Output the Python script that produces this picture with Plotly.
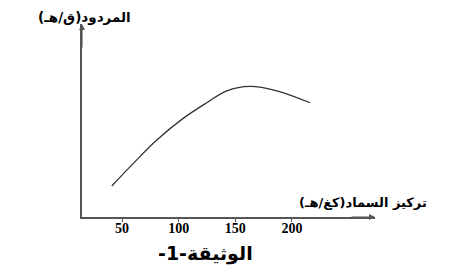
import plotly.graph_objects as go

# data (fertilizer concentration kg/ha vs yield, arbitrary yield units)
fertilizer = [41, 60, 80.7, 104, 124.8, 142.5, 163, 186.6, 216]
yield_vals = [16.1, 27.8, 39.9, 51.1, 59.2, 65.4, 67.7, 65.4, 59.2]
tick_vals = [50, 100, 150, 200]
tick_text = ["50", "100", "150", "200"]

W, H = 457, 276
L, R, T, B = 82, 82, 24, 59
PW, PH = W - L - R, H - T - B


def px(x):
    return (x - L) / PW


def py(y):
    return (H - B - y) / PH


fig = go.Figure()
fig.add_trace(go.Scatter(x=fertilizer, y=yield_vals, mode="lines",
                         line=dict(color="#333333", width=1.3, shape="spline", smoothing=1.0),
                         hoverinfo="skip", showlegend=False))

fig.update_layout(
    width=W, height=H,
    margin=dict(l=L, r=R, t=T, b=B),
    paper_bgcolor="white", plot_bgcolor="white",
    xaxis=dict(range=[14.7, 273.3], showgrid=False, zeroline=False,
               showline=True, linecolor="#555555", linewidth=1.5,
               tickvals=tick_vals, ticktext=tick_text,
               ticks="outside", ticklen=3, tickcolor="#555555", tickwidth=1,
               ticklabelstandoff=-6,
               tickfont=dict(family="Liberation Serif", size=14, color="black", weight="bold")),
    yaxis=dict(range=[0, 100], showgrid=False, zeroline=False,
               showline=True, linecolor="#555555", linewidth=1.5,
               showticklabels=False, ticks=""),
)

# arrowheads on axes
fig.add_annotation(x=1.0, y=0, xref="paper", yref="paper", ax=-25, ay=0,
                   showarrow=True, arrowhead=2, arrowsize=1, arrowwidth=1.2,
                   arrowcolor="#555555", text="")
fig.add_annotation(x=0, y=1.0, xref="paper", yref="paper", ax=0, ay=25,
                   showarrow=True, arrowhead=2, arrowsize=1, arrowwidth=1.2,
                   arrowcolor="#555555", text="")

font_ar = "DejaVu Sans"
fig.add_annotation(x=px(84), y=py(17), xref="paper", yref="paper",
                   text="<b>المردود(ق/هـ)</b>", showarrow=False,
                   font=dict(family=font_ar, size=13.5, color="black"),
                   xanchor="center", yanchor="middle")
fig.add_annotation(x=px(429), y=py(202), xref="paper", yref="paper",
                   text="<b>تركيز السماد(كغ/هـ)</b>", showarrow=False,
                   font=dict(family=font_ar, size=13, color="black"),
                   xanchor="right", yanchor="middle")
fig.add_annotation(x=px(205), y=py(253), xref="paper", yref="paper",
                   text="<b>-1-الوثيقة</b>", showarrow=False,
                   font=dict(family=font_ar, size=19, color="black"),
                   xanchor="center", yanchor="middle")

fig.write_html("out.html")
